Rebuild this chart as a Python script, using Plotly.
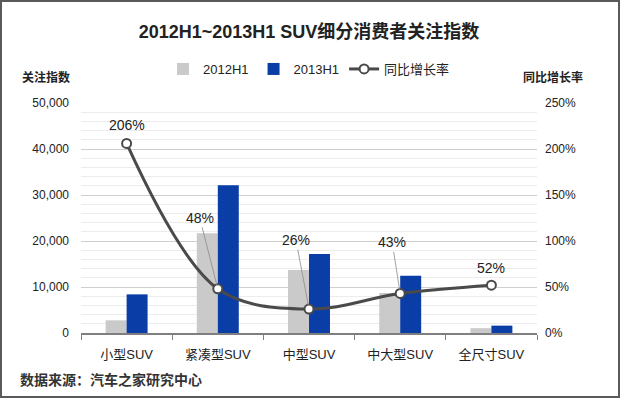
import plotly.graph_objects as go

categories = ["小型SUV", "紧凑型SUV", "中型SUV", "中大型SUV", "全尺寸SUV"]
h1_2012 = [2750, 21700, 13700, 8700, 1050]
h1_2013 = [8400, 32100, 17200, 12450, 1600]
growth = [206, 48, 26, 43, 52]
growth_labels = ["206%", "48%", "26%", "43%", "52%"]
left_ticks = [0, 10000, 20000, 30000, 40000, 50000]
right_ticks = [0, 50, 100, 150, 200, 250]
right_tick_text = ["0%", "50%", "100%", "150%", "200%", "250%"]

FONT = "Liberation Sans, Arial, Noto Sans CJK SC, sans-serif"
W, H = 620, 398
ML, MR, MT, MB = 81, 83, 103, 65
PW, PH = W - ML - MR, H - MT - MB

fig = go.Figure()
fig.add_trace(go.Bar(x=categories, y=h1_2012, name="2012H1", marker_color="#cacaca",
                     marker_line_width=0))
fig.add_trace(go.Bar(x=categories, y=h1_2013, name="2013H1", marker_color="#0a3da6",
                     marker_line_width=0))
fig.add_trace(go.Scatter(x=categories, y=growth, name="同比增长率", yaxis="y2",
                         mode="lines+markers", line=dict(color="#4a4a4a", width=3, shape="spline", smoothing=1.0),
                         marker=dict(color="white", size=9, line=dict(color="#4a4a4a", width=2))))

# label offsets (pixels)
offsets = [(0, -18, False), (-18, -71, True), (-13, -69, True), (-8, -51, True), (0, -17, False)]
for i, (ax, ay, arrow) in enumerate(offsets):
    if arrow:
        fig.add_annotation(x=categories[i], y=growth[i], xref="x", yref="y2", text=growth_labels[i],
                           showarrow=True, arrowhead=0, arrowwidth=0.8, arrowcolor="#8a8a8a",
                           ax=ax, ay=ay, standoff=4, font=dict(size=14, color="#222", family=FONT))
    else:
        fig.add_annotation(x=categories[i], y=growth[i], xref="x", yref="y2", text=growth_labels[i],
                           showarrow=False, yshift=-ay, font=dict(size=14, color="#222", family=FONT))

# axis titles and footer
fig.add_annotation(x=-(ML - 20) / PW, y=1 + 26 / PH, xref="paper", yref="paper", xanchor="left", yanchor="middle",
                   text="<b>关注指数</b>", showarrow=False, font=dict(size=12, color="#222", family=FONT))
fig.add_annotation(x=1 + (585 - ML - PW) / PW, y=1 + 26 / PH, xref="paper", yref="paper", xanchor="right", yanchor="middle",
                   text="<b>同比增长率</b>", showarrow=False, font=dict(size=12, color="#222", family=FONT))
fig.add_annotation(x=-(ML - 18) / PW, y=-(380 - MT - PH) / PH, xref="paper", yref="paper", xanchor="left", yanchor="middle",
                   text="<b>数据来源：汽车之家研究中心</b>", showarrow=False, font=dict(size=14, color="#333", family=FONT))

# border
fig.add_shape(type="rect", xref="paper", yref="paper",
              x0=-(ML - 1) / PW, x1=1 + (MR - 1) / PW, y0=-(MB - 1) / PH, y1=1 + (MT - 1) / PH,
              line=dict(color="#5a5a5a", width=2), fillcolor="rgba(0,0,0,0)", layer="above")

fig.update_layout(
    width=W, height=H,
    margin=dict(l=ML, r=MR, t=MT, b=MB),
    paper_bgcolor="white", plot_bgcolor="white",
    font=dict(family=FONT, color="#222", size=12),
    title=dict(text="<b>2012H1~2013H1 SUV细分消费者关注指数</b>", x=0.5, xref="paper", xanchor="center",
               y=1 - 32 / H, yanchor="middle", font=dict(size=18, color="#222", family=FONT)),
    barmode="group", bargap=0.54, bargroupgap=0,
    showlegend=True,
    legend=dict(orientation="h", x=0.5, xanchor="center", y=1 + (MT - 69) / PH, yanchor="middle",
                font=dict(size=13, color="#222", family=FONT), itemwidth=30, traceorder="normal",
                bgcolor="rgba(0,0,0,0)"),
    xaxis=dict(type="category", showgrid=False, showline=True, linecolor="#7f7f7f", linewidth=1.5,
               ticks="outside", tickson="boundaries", ticklen=5, tickcolor="#7f7f7f",
               ticklabelstandoff=9,
               tickfont=dict(size=13, color="#222", family=FONT)),
    yaxis=dict(range=[0, 50000], tickvals=left_ticks, tickformat=",", showgrid=True, gridcolor="#cfcfcf",
               gridwidth=1, zeroline=False, showline=False, ticks="", ticklabelstandoff=11,
               tickfont=dict(size=12, color="#222", family=FONT),
               minor=dict(dtick=2000, showgrid=True, gridcolor="#ececec", gridwidth=1)),
    yaxis2=dict(range=[0, 250], tickvals=right_ticks, ticktext=right_tick_text, overlaying="y", side="right",
                showgrid=False, zeroline=False, showline=False, ticks="", ticklabelstandoff=7,
                tickfont=dict(size=12, color="#222", family=FONT)),
)

fig.write_html("out.html", config={"displayModeBar": False},
               post_script="document.body.style.margin='0';document.body.style.padding='0';")
